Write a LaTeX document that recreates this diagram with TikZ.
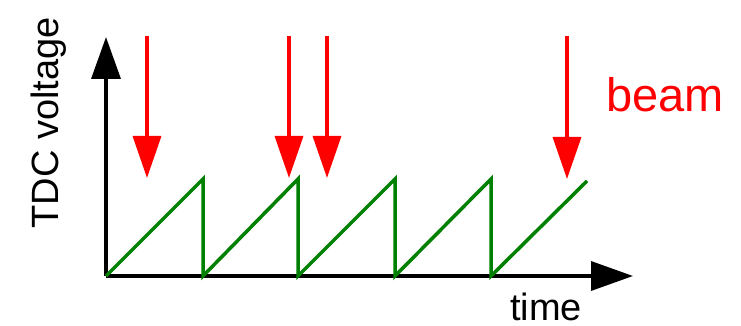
\documentclass[tikz,border=0pt]{standalone}
\usepackage{fontspec}
\setmainfont{Liberation Sans}
\usepackage{tikz}
\usetikzlibrary{arrows.meta}
\definecolor{sawgreen}{HTML}{008000}

\begin{document}
\begin{tikzpicture}[x=1pt, y=1pt,
            axis/.style={line width=3.5pt, black, -{Triangle[length=42pt, width=29pt]}},
            beamarrow/.style={line width=3.5pt, red, -{Triangle[length=42pt, width=28pt]}},
            saw/.style={line width=3.5pt, sawgreen, line join=miter},
            label/.style={font=\fontsize{38}{44}\selectfont, anchor=base, inner sep=0pt}]
            \useasboundingbox (0,0) rectangle (741,326);
            % axes
            \coordinate (o) at (106,50);
            \coordinate (ytip) at (106,289);
            \coordinate (xtip) at (633,50);
            \draw[axis] (o) -- (ytip);
            \draw[axis] (o) -- (xtip);
            \node[label, rotate=90] (ylab) at (58,203) {TDC voltage};
            \node[label] (xlab) at (546,5) {time};
            % sawtooth
            \coordinate (p1) at (203,147);
            \coordinate (q1) at (203,50);
            \coordinate (p2) at (298,147);
            \coordinate (q2) at (298,50);
            \coordinate (p3) at (395,147);
            \coordinate (q3) at (395,50);
            \coordinate (p4) at (491,147);
            \coordinate (q4) at (491,50);
            \coordinate (p5) at (587,145);
            \draw[saw] (o) -- (p1) -- (q1) -- (p2) -- (q2) -- (p3) -- (q3) -- (p4) -- (q4) -- (p5);
            % beam arrows
            \coordinate (b1) at (147,290);
            \coordinate (c1) at (147,148);
            \coordinate (b2) at (289,290);
            \coordinate (c2) at (289,148);
            \coordinate (b3) at (327,290);
            \coordinate (c3) at (327,148);
            \coordinate (b4) at (567,290);
            \coordinate (c4) at (567,147);
            \draw[beamarrow] (b1) -- (c1);
            \draw[beamarrow] (b2) -- (c2);
            \draw[beamarrow] (b3) -- (c3);
            \draw[beamarrow] (b4) -- (c4);
            \node[label, red, font=\fontsize{47}{54}\selectfont] (beam) at (665,214) {beam};
        \end{tikzpicture}
\end{document}
